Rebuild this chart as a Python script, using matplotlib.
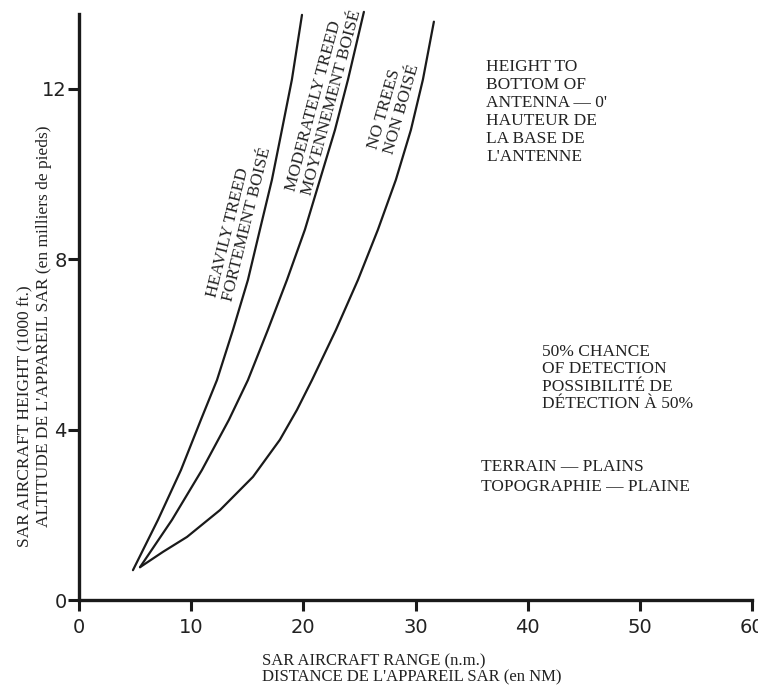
import matplotlib
matplotlib.use("Agg")
import matplotlib.pyplot as plt

# values (range in n.m., height in 1000 ft)
heavy_x = [4.81, 7.04, 9.09, 10.87, 12.30, 13.73, 15.06, 16.13, 17.20, 18.09, 18.98, 19.88]
heavy_y = [0.70, 1.88, 3.05, 4.23, 5.16, 6.34, 7.51, 8.69, 9.86, 11.03, 12.21, 13.73]
moder_x = [5.44, 8.29, 10.96, 13.37, 15.06, 16.84, 18.54, 20.14, 21.48, 22.82, 23.98, 25.40]
moder_y = [0.77, 1.88, 3.05, 4.23, 5.16, 6.34, 7.51, 8.69, 9.86, 11.03, 12.21, 13.80]
none_x = [5.44, 7.49, 9.63, 12.57, 15.51, 17.91, 19.43, 20.77, 22.91, 24.87, 26.65, 28.25,
          29.59, 30.66, 31.64]
none_y = [0.77, 1.13, 1.48, 2.11, 2.89, 3.76, 4.46, 5.16, 6.34, 7.51, 8.69, 9.86,
          11.03, 12.21, 13.57]

x_ticks = [0, 10, 20, 30, 40, 50, 60]
y_ticks = [0, 4, 8, 12]

SERIF = "Liberation Serif"
INK = "#1a1a1a"
W, H = 758, 691


def px(x, y):
    # figure pixel -> figure fraction
    return x / W, 1 - y / H


fig = plt.figure(figsize=(W / 100, H / 100), dpi=100)
ax = fig.add_axes([79 / W, 1 - 600 / H, 673 / W, 586 / H])
ax.set_xlim(0, 60)
ax.set_ylim(0, 13.75)

for xs, ys in [(heavy_x, heavy_y), (moder_x, moder_y), (none_x, none_y)]:
    ax.plot(xs, ys, color=INK, lw=1.6, clip_on=False,
            solid_joinstyle="round", solid_capstyle="round")

for s in ["top", "right"]:
    ax.spines[s].set_visible(False)
for s in ["left", "bottom"]:
    ax.spines[s].set_linewidth(2.4)
    ax.spines[s].set_color(INK)

ax.set_xticks(x_ticks)
ax.set_yticks(y_ticks)
ax.tick_params(axis="both", direction="out", length=8, width=2.2, color=INK,
               labelsize=14, labelcolor="#222222")
ax.tick_params(axis="x", pad=5)
ax.tick_params(axis="y", pad=1)

# curve labels
txt = dict(family=SERIF, fontsize=12.5, color="#222222", ha="center", va="center",
           rotation_mode="anchor", multialignment="left", linespacing=1.0)
fig.text(*px(239, 222), "HEAVILY TREED\nFORTEMENT BOISÉ", rotation=76, **txt)
fig.text(*px(324, 101), "MODERATELY TREED\nMOYENNEMENT BOISÉ", rotation=75, **txt)
fig.text(*px(394, 107), "NO TREES\nNON BOISÉ", rotation=74, **txt)

# notes on the right
note = dict(family=SERIF, fontsize=12.5, color="#222222", ha="left", va="top")
fig.text(*px(486, 59), "HEIGHT TO\nBOTTOM OF\nANTENNA — 0'\nHAUTEUR DE\nLA BASE DE\nL'ANTENNE",
         linespacing=1.16, **note)
fig.text(*px(542, 344), "50% CHANCE\nOF DETECTION\nPOSSIBILITÉ DE\nDÉTECTION À 50%",
         linespacing=1.12, **note)
fig.text(*px(481, 459), "TERRAIN — PLAINS\nTOPOGRAPHIE — PLAINE", linespacing=1.3, **note)

# axis titles
lab = dict(family=SERIF, color="#222222")
fig.text(*px(262, 653), "SAR AIRCRAFT RANGE (n.m.)\nDISTANCE DE L'APPAREIL SAR (en NM)",
         ha="left", va="top", linespacing=1.05, fontsize=12, **lab)
fig.text(*px(25, 547), "SAR AIRCRAFT HEIGHT (1000 ft.)", rotation=90, ha="center",
         va="bottom", fontsize=12.5, **lab)
fig.text(*px(44, 527), "ALTITUDE DE L'APPAREIL SAR (en milliers de pieds)", rotation=90,
         ha="center", va="bottom", fontsize=12.5, **lab)

fig.savefig("out.png", dpi=100)
